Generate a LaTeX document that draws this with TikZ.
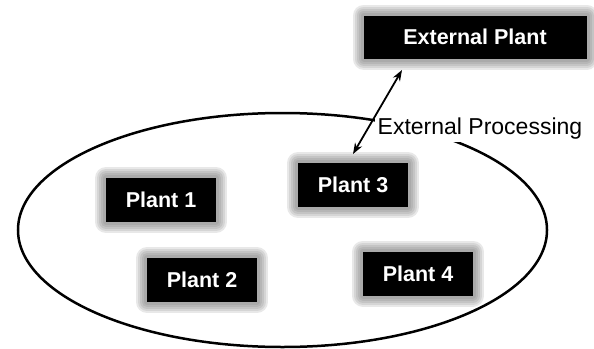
\documentclass[tikz,border=0pt]{standalone}
\usepackage{fontspec}
\setmainfont{Liberation Sans}
\usetikzlibrary{arrows.meta}
\begin{document}
\begin{tikzpicture}[x=1pt,y=-1pt,
  glowring/.style={preaction={draw=black!60,draw opacity=0.15,line width=#1,line join=round}},
  plantbox/.style={fill=black,text=white,font=\bfseries\fontsize{21.5}{24}\selectfont,
    minimum width=110pt,minimum height=44pt,inner sep=0pt,
    glowring=22pt,glowring=18pt,glowring=14pt,glowring=10pt,glowring=6pt},
  link/.style={line width=1.8pt,{Stealth[length=11pt,width=8pt]}-{Stealth[length=11pt,width=8pt]}}]
\useasboundingbox (0,0) rectangle (594,348);
\draw[line width=2.5pt] (282.5,230) ellipse [x radius=264.5, y radius=117];
\node[font=\fontsize{23}{26}\selectfont,anchor=west,fill=white,inner sep=2.5pt] (lbl) at (375,129) {External Processing};
\node[plantbox,minimum width=223pt,minimum height=43pt] (ext) at (475,37) {External Plant};
\node[plantbox] (p1) at (161,200) {Plant 1};
\node[plantbox] (p3) at (353,185) {Plant 3};
\node[plantbox] (p2) at (202,280) {Plant 2};
\node[plantbox] (p4) at (418,273.5) {Plant 4};
\coordinate (a1) at (402,70);
\coordinate (a2) at (353,154);
\draw[link] (a1) -- (a2);
\end{tikzpicture}
\end{document}
